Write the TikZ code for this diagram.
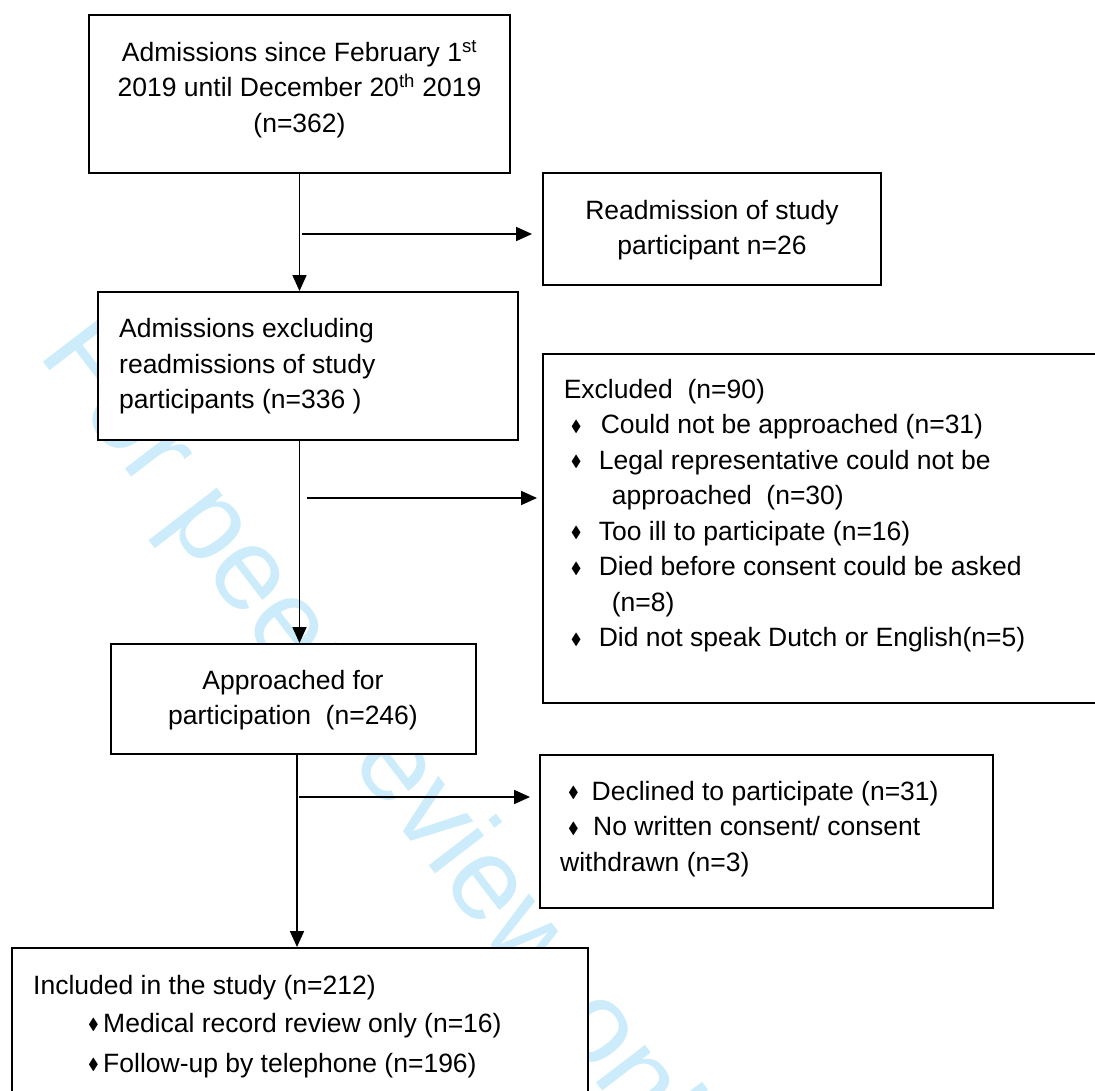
\documentclass[tikz,border=0pt]{standalone}
\usepackage{amssymb}
\usepackage{fontspec}
\setmainfont{Liberation Sans}
\usetikzlibrary{arrows.meta}

\definecolor{wmark}{RGB}{204,236,252}
\newcommand{\bul}[1][28pt]{\makebox[#1][l]{\raisebox{0.1em}{\fontsize{16}{16}\selectfont$\blacklozenge$}}}

\begin{document}
\begin{tikzpicture}[x=1pt, y=-1pt,
    box/.style={rectangle, draw, line width=1.9pt, fill=white, inner sep=0pt},
    txt/.style={inner sep=0pt, font=\fontsize{26.5}{35.5}\selectfont},
    arr/.style={-{Triangle[length=16pt,width=14pt]}, line width=1.7pt}]

    \useasboundingbox (0,0) rectangle (1095,1091);
    \clip (0,0) rectangle (1095,1091);

    % watermark
    \node[anchor=base west, rotate=-52.5, inner sep=0pt, text=wmark,
        font=\fontsize{117}{117}\selectfont] (wm) at (37,354) {For peer review only};

    % boxes
    \node[box, minimum width=421pt, minimum height=158pt] (admit) at (299.5,94) {};
    \node[box, minimum width=338pt, minimum height=112pt] (readmit) at (712,229) {};
    \node[box, minimum width=420pt, minimum height=148pt] (admitx) at (308,366) {};
    \node[box, minimum width=567pt, minimum height=349pt] (excluded) at (826.5,528.5) {};
    \node[box, minimum width=365pt, minimum height=110pt] (approach) at (293.5,699) {};
    \node[box, minimum width=453pt, minimum height=153pt] (declined) at (766.5,831.5) {};
    \node[box, minimum width=576pt, minimum height=162pt] (included) at (300,1029) {};

    % texts
    \node[txt, anchor=north, align=center] (admittxt) at (299.5,36.15)
        {\strut Admissions since February 1\textsuperscript{st}\\
         2019 until December 20\textsuperscript{th} 2019\\
         (n=362)};
    \node[txt, anchor=north, align=center] (readmittxt) at (712,194.15)
        {\strut Readmission of study\\participant n=26};
    \node[txt, anchor=north west, align=left] (admitxtxt) at (119,312.65)
        {\strut Admissions excluding\\readmissions of study\\participants (n=336 )};
    \node[txt, anchor=north west, align=left] (excludedtxt) at (563.6,373.15)
        {\strut Excluded\ \ (n=90)\\
         \hspace*{7pt}\bul[30pt]Could not be approached (n=31)\\
         \hspace*{7pt}\bul Legal representative could not be\\
         \hspace*{48pt}approached\ \ (n=30)\\
         \hspace*{7pt}\bul Too ill to participate (n=16)\\
         \hspace*{7pt}\bul Died before consent could be asked\\
         \hspace*{48pt}(n=8)\\
         \hspace*{7pt}\bul Did not speak Dutch or English(n=5)};
    \node[txt, anchor=north, align=center] (approachtxt) at (293,664.15)
        {\strut Approached for\\participation\ \ (n=246)};
    \node[txt, anchor=north west, align=left] (declinedtxt) at (560,775.15)
        {\strut \hspace*{8pt}\bul[23.5pt]Declined to participate (n=31)\\
         \hspace*{8pt}\bul[25pt]No written consent/ consent\\
         withdrawn (n=3)};
    \node[txt, anchor=north west, align=left] (includedtxt) at (33,969.15)
        {\strut Included in the study (n=212)\\[2.5pt]
         \hspace*{55pt}\bul[15pt]Medical record review only (n=16)\\[4.5pt]
         \hspace*{55pt}\bul[15pt]Follow-up by telephone (n=196)};

    % arrows
    \draw[arr] (admit.south) -- (admit.south |- admitx.north);
    \draw[arr] ([xshift=-8.5pt]admitx.south) -- ([xshift=6pt]approach.north);
    \draw[arr] ([xshift=3.5pt]approach.south) -- ([xshift=-3pt]included.north);

    \coordinate (s1) at (302,234);
    \coordinate (s2) at (307,498);
    \coordinate (s3) at (299,797);
    \draw[arr, shorten >=10pt] (s1) -- (s1 -| readmit.west);
    \draw[arr, shorten >=5pt] (s2) -- (s2 -| excluded.west);
    \draw[arr, shorten >=9pt] (s3) -- (s3 -| declined.west);

\end{tikzpicture}
\end{document}
